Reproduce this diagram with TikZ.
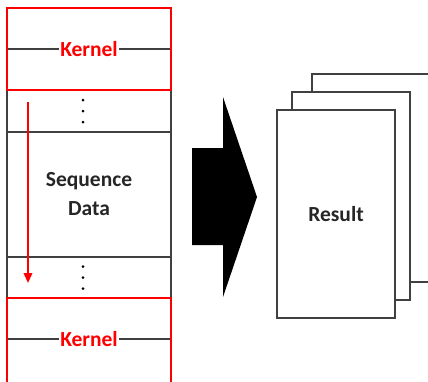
\documentclass[tikz,border=0pt]{standalone}
\usepackage{fontspec}
\setmainfont{Carlito}
\usepackage{tikz}
\usetikzlibrary{positioning, arrows.meta}

\tikzset{
    rowbox/.style={draw=black!75, line width=1.2pt, minimum width=164pt, inner sep=0pt, outer sep=0pt},
    kernelbox/.style={draw=red, line width=1.6pt, minimum width=164pt, inner sep=0pt, outer sep=0pt},
    kernellabel/.style={fill=white, text=red, inner sep=1.5pt, font=\fontsize{21.5}{26}\selectfont\bfseries},
    midline/.style={draw=black!75, line width=1.2pt},
    pagebox/.style={draw=black!75, fill=white, line width=1.2pt, minimum width=118pt, minimum height=208pt, inner sep=0pt},
    bigtext/.style={font=\fontsize{21.5}{29}\selectfont\bfseries, text=black!85, align=center},
}

\begin{document}
\begin{tikzpicture}[x=1pt, y=-1pt]
    \useasboundingbox (0,0) rectangle (428,381);
    \clip (0,0) rectangle (428,381);

    % sequence column
    \node[rowbox, minimum height=42pt] (gap1) at (89,111) {};
    \node[rowbox, minimum height=125pt, below=0pt of gap1] (seq) {};
    \node[rowbox, minimum height=41pt, below=0pt of seq] (gap2) {};
    \node[bigtext] at (seq) {Sequence\\Data};

    \foreach \d in {-11, 0, 11} {
        \fill ([xshift=-6pt, yshift=\d pt]gap1.center) circle (1.5pt);
        \fill ([xshift=-6pt, yshift=\d pt]gap2.center) circle (1.5pt);
    }

    % kernels
    \node[kernelbox, minimum height=82pt, above=0pt of gap1] (ktop) {};
    \node[kernelbox, minimum height=86pt, below=0pt of gap2] (kbot) {};
    \draw[midline] ([xshift=0.8pt]ktop.west) -- ([xshift=-0.8pt]ktop.east);
    \draw[midline] ([xshift=0.8pt, yshift=2pt]kbot.west) -- ([xshift=-0.8pt, yshift=2pt]kbot.east);
    \node[kernellabel] (ktoplabel) at (ktop) {Kernel};
    \node[kernellabel] (kbotlabel) at ([yshift=2pt]kbot.center) {Kernel};

    % sliding direction
    \coordinate (scanstart) at (28,102);
    \coordinate (scanend) at (28,283);
    \draw[red, line width=2pt, -{Triangle[length=10pt, width=8.5pt]}] (scanstart) -- (scanend);

    % big arrow
    \fill[black] (192,148) -- (223,148) -- (223,97) -- (257,197)
        -- (223,297) -- (223,245) -- (192,245) -- cycle;

    % result pages
    \node[pagebox] (page3) at (371,178) {};
    \node[pagebox] (page2) at ([xshift=-20pt, yshift=-18pt]page3.center) {};
    \node[pagebox] (page1) at ([xshift=-15pt, yshift=-18pt]page2.center) {};
    \node[bigtext] at (page1) {Result};
\end{tikzpicture}
\end{document}
